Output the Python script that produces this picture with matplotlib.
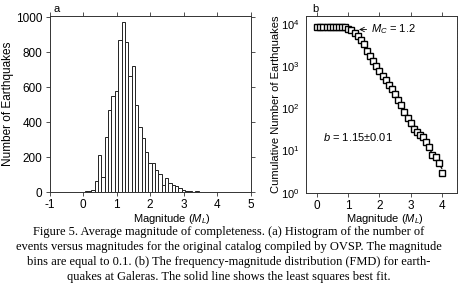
import numpy as np
import matplotlib
matplotlib.use("Agg")
import matplotlib.pyplot as plt

plt.rcParams['font.family'] = ['Liberation Sans', 'DejaVu Sans']
plt.rcParams['mathtext.fontset'] = 'custom'
plt.rcParams['mathtext.rm'] = 'Liberation Sans'
plt.rcParams['mathtext.it'] = 'Liberation Sans:italic'
plt.rcParams['axes.unicode_minus'] = False

# histogram (bin centres, width 0.1)
hist_mag = [0.1, 0.2, 0.3, 0.4, 0.5, 0.6, 0.7, 0.8, 0.9, 1.0,
            1.1, 1.2, 1.3, 1.4, 1.5, 1.6, 1.7, 1.8, 1.9, 2.0,
            2.1, 2.2, 2.3, 2.4, 2.5, 2.6, 2.7, 2.8, 2.9, 3.0,
            3.1, 3.2, 3.3, 3.4, 3.5, 3.6, 3.7, 3.8, 3.9, 4.0, 4.1]
hist_count = [10, 5, 15, 65, 215, 85, 315, 470, 550, 580,
              870, 975, 860, 665, 720, 500, 375, 310, 230, 170,
              165, 125, 105, 40, 80, 55, 40, 35, 25, 12,
              8, 5, 4, 5, 3, 4, 3, 2, 2, 2, 1]

# cumulative frequency-magnitude distribution
fmd_mag = [0.0, 0.1, 0.2, 0.3, 0.4, 0.5, 0.6, 0.7, 0.8, 0.9,
           1.0, 1.1, 1.2, 1.3, 1.4, 1.5, 1.6, 1.7, 1.8, 1.9,
           2.0, 2.1, 2.2, 2.3, 2.4, 2.5, 2.6, 2.7, 2.8, 2.9,
           3.0, 3.1, 3.2, 3.3, 3.4, 3.5, 3.6, 3.7, 3.8, 3.9, 4.0]
fmd_count = [8700, 8700, 8695, 8690, 8680, 8660, 8630, 8600, 8500, 8300,
             7800, 7100, 6200, 5250, 4250, 3300, 2350, 1780, 1350, 1020,
             760, 575, 470, 355, 280, 215, 160, 120, 81, 58,
             44, 33, 27, 23, 21, 16, 12, 8, 7, 5, 3]

# least squares line: log10 N = a - b*M, from Mc
a_value = 5.18
b_value = 1.15
mc = 1.2

caption = [
    "Figure 5. Average magnitude of completeness. (a) Histogram of the number of",
    "events versus magnitudes for the original catalog compiled by OVSP. The magnitude",
    "bins are equal to 0.1. (b) The frequency-magnitude distribution (FMD) for earth-",
    "quakes at Galeras. The solid line shows the least squares best fit.",
]

W, H = 458, 297
fig = plt.figure(figsize=(W / 100, H / 100), dpi=100)

def box(x0, x1, y0, y1):
    return [x0 / W, 1 - y1 / H, (x1 - x0) / W, (y1 - y0) / H]

frame_col = '#333333'

# ---- panel a
ax1 = fig.add_axes(box(49.5, 250.5, 16, 192.3))
ax1.bar(hist_mag, hist_count, width=0.1, facecolor='white',
        edgecolor='#222222', linewidth=0.7)
ax1.set_xlim(-1, 5)
ax1.set_ylim(0, 1007)
ax1.set_xticks([-1, 0, 1, 2, 3, 4, 5])
ax1.set_yticks([0, 200, 400, 600, 800, 1000])
ax1.set_ylabel("Number of Earthquakes", fontsize=8.5)
ax1.yaxis.set_label_coords(-0.175, 0.5)
ax1.set_xlabel("Magnitude ($M_L$)", fontsize=8)
ax1.xaxis.set_label_coords(0.61, -0.11)
ax1.text(0.02, 1.01, "a", transform=ax1.transAxes, fontsize=8, va='bottom')

# ---- panel b
ax2 = fig.add_axes(box(306, 456.7, 16, 192.7))
ax2.set_yscale('log')
ax2.plot(fmd_mag, fmd_count, linestyle='none', marker='s', markersize=3.9,
         markerfacecolor='white', markeredgecolor='black', markeredgewidth=1.0,
         zorder=3)
m_fit = np.array([mc, fmd_mag[-1]])
ax2.plot(m_fit, 10 ** (a_value - b_value * m_fit), color='black', lw=0.9, zorder=2)
ax2.set_xlim(-0.36, 4.48)
ax2.set_ylim(1, 10 ** 4.19)
ax2.set_xticks([0, 1, 2, 3, 4])
ax2.set_yticks([1, 10, 100, 1000, 10000])
ax2.set_ylabel("Cumulative Number of Earthquakes", fontsize=8)
ax2.yaxis.set_label_coords(-0.165, 0.5)
ax2.set_xlabel("Magnitude ($M_L$)", fontsize=8)
ax2.xaxis.set_label_coords(0.52, -0.11)
ax2.text(0.04, 1.01, "b", transform=ax2.transAxes, fontsize=8, va='bottom')
ax2.annotate("$M_C$ = 1.2", xy=(1.3, 10 ** 3.87), xytext=(1.72, 10 ** 3.87),
             fontsize=8, va='center',
             arrowprops=dict(arrowstyle='->', lw=0.6, color='black',
                             shrinkA=1, shrinkB=1))
ax2.text(0.17, 10 ** 1.33, "$b$ = 1.15\u00b10.01", fontsize=8, va='center')

for ax in (ax1, ax2):
    for s in ax.spines.values():
        s.set_linewidth(0.7)
        s.set_color(frame_col)
    ax.tick_params(which='both', top=True, right=True, labelsize=8.5,
                   width=0.6, color=frame_col, pad=2)
    ax.tick_params(which='major', length=3)
    ax.tick_params(which='minor', length=1.5)
ax1.tick_params(axis='y', direction='out')
ax2.tick_params(axis='y', which='both', left=False, labelsize=8, pad=1.5)

# caption
for i, line in enumerate(caption):
    fig.text(0.5, 1 - (232 + 15 * i) / H, line, ha='center', va='center',
             fontsize=9, family=['Liberation Serif', 'DejaVu Serif'])

fig.savefig("out.png", dpi=100)
